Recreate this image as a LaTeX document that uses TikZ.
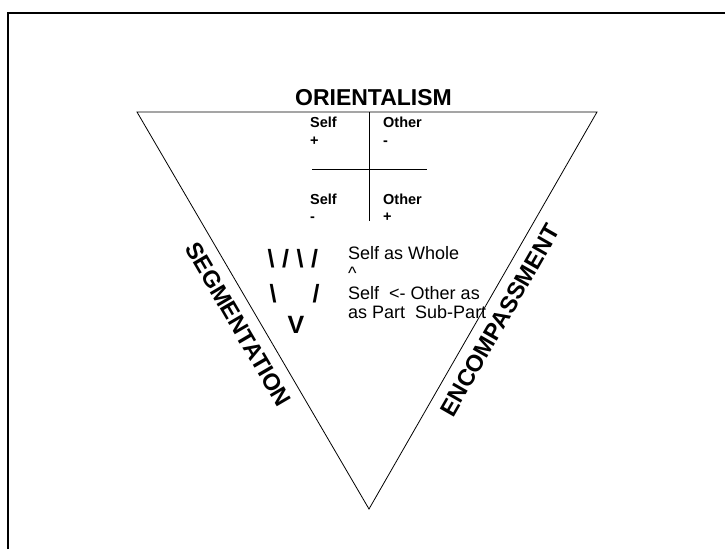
\documentclass[tikz,border=0pt]{standalone}
\usepackage{fontspec}
\setmainfont{Liberation Sans}
\begin{document}
\begin{tikzpicture}[x=1pt, y=-1pt,
    celltext/.style={anchor=base west, inner sep=0pt, font=\fontsize{14.5}{17}\selectfont\bfseries},
    edgelabel/.style={sloped, inner sep=0pt, font=\fontsize{23.5}{28}\selectfont\bfseries},
    glyph/.style={inner sep=0pt, font=\fontsize{25}{30}\selectfont\bfseries},
    note/.style={anchor=base west, inner sep=0pt, font=\fontsize{18}{21}\selectfont}]
  \useasboundingbox (0,0) rectangle (725,549);
  \draw[line width=2pt] (7.5,549) -- (7.5,12.5) -- (725,12.5);

  \coordinate (tl) at (137,112);
  \coordinate (tr) at (597,112);
  \coordinate (bot) at (369,509);
  \draw[line width=0.8pt] (tl) -- (tr) -- (bot) -- cycle;

  \node[anchor=base, inner sep=0pt, font=\fontsize{23}{28}\selectfont\bfseries] (title) at (373.5,105) {ORIENTALISM};

  \coordinate (vtop) at (369,112);
  \coordinate (vbot) at (369,221);
  \coordinate (hl) at (312,169);
  \coordinate (hr) at (427,169);
  \draw (vtop) -- (vbot);
  \draw (hl) -- (hr);

  \node[celltext] (selfa) at (310,127) {Self};
  \node[celltext] (plusa) at (310,145) {+};
  \node[celltext] (othera) at (383,127) {Other};
  \node[celltext] (minusa) at (383,145) {-};
  \node[celltext] (selfb) at (310,204) {Self};
  \node[celltext] (minusb) at (310,221) {-};
  \node[celltext] (otherb) at (383,204) {Other};
  \node[celltext] (plusb) at (383,221) {+};

  \node[glyph, anchor=base west] (rowa) at (267.5,267) {\textbackslash\hspace{7.5pt}/\hspace{7.5pt}\textbackslash\hspace{7.5pt}/};
  \node[glyph, anchor=base west] (rowb) at (269.5,302) {\textbackslash\hspace{36pt}/};
  \node[glyph, anchor=base] (rowc) at (296,333) {V};

  \node[note] (whole) at (348,259) {Self as Whole};
  \node[note] (caret) at (348,279) {\textasciicircum};
  \node[note] (partof) at (348,299) {Self\ \ <- Other as};
  \node[note] (subpart) at (348,318) {as Part\ \ Sub-Part};

  \path (tl) -- (bot) node[edgelabel, pos=0.51, below=11pt] (segm) {SEGMENTATION};
  \path (bot) -- (tr) node[edgelabel, pos=0.5, below=11pt] (encomp) {ENCOMPASSMENT};
\end{tikzpicture}
\end{document}
